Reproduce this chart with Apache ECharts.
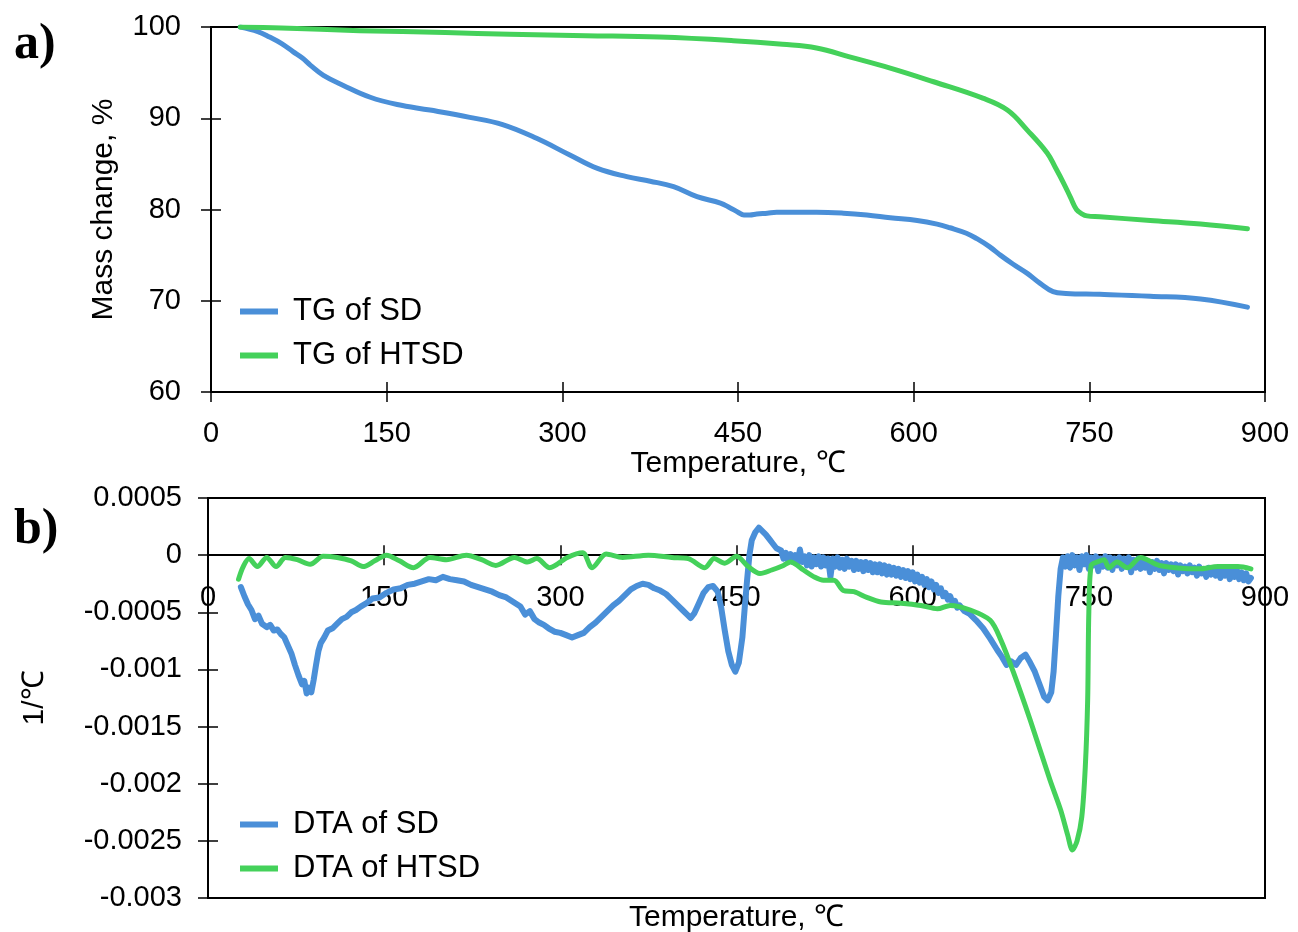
<!DOCTYPE html>
<html>
<head>
<meta charset="utf-8">
<script src="https://cdn.jsdelivr.net/npm/echarts@6/dist/echarts.min.js"></script>
<style>
  html, body { margin: 0; padding: 0; background: #fff; }
  #chart { width: 1298px; height: 932px; }
</style>
</head>
<body>
<div id="chart"></div>
<script>
// Temperature axis ticks (°C)
const tempTicks = [0, 150, 300, 450, 600, 750, 900];

// TG curves: temperature (°C) and mass change (%)
const tgSdTemp = [25, 40, 50, 60, 70, 78, 85, 96, 113, 136, 159, 187, 221, 249, 278, 306, 330, 355, 375, 395, 415, 435, 443, 450, 455, 460, 466, 475, 483, 500, 517, 540, 560, 580, 603, 620, 631, 645, 654, 665, 674, 685, 697, 708, 719, 730, 759, 802, 845, 885];
const tgSdMass = [100, 99.5, 98.9, 98.2, 97.3, 96.6, 95.8, 94.7, 93.6, 92.3, 91.5, 90.9, 90.1, 89.3, 87.8, 86.0, 84.5, 83.6, 83.1, 82.5, 81.4, 80.7, 80.2, 79.7, 79.4, 79.4, 79.5, 79.6, 79.7, 79.7, 79.7, 79.6, 79.4, 79.1, 78.8, 78.4, 78.0, 77.4, 76.8, 75.9, 75.0, 74.0, 73.0, 71.9, 71.0, 70.8, 70.7, 70.5, 70.2, 69.3];

const tgHtsdTemp = [25, 60, 127, 200, 255, 320, 383, 446, 488, 517, 546, 580, 617, 659, 680, 697, 714, 721, 728, 734, 739, 744, 748, 759, 802, 845, 885];
const tgHtsdMass = [100, 99.9, 99.6, 99.4, 99.2, 99.05, 98.9, 98.5, 98.1, 97.7, 96.7, 95.5, 94.0, 92.2, 90.9, 88.7, 86.2, 84.6, 82.9, 81.3, 80.0, 79.5, 79.3, 79.2, 78.8, 78.4, 77.9];

// DTA curves: temperature (°C) and signal (1/°C)
const dtaSdTemp = [
  28, 31, 34, 37, 40, 43, 46, 50, 53, 56, 59, 62, 65, 68, 71, 74, 77, 80, 82, 84, 86, 88, 90, 92, 94, 96, 99,
  102, 106, 110, 114, 118, 122, 126, 130, 135, 140, 146, 152, 158, 164, 170, 176, 182, 188, 194, 200,
  206, 212, 218, 224, 230, 236, 242, 248, 254, 260, 266, 270, 274, 278, 282, 286, 290, 295, 300,
  305, 310, 315, 320, 325, 330, 335, 340, 345, 350, 355, 360, 365, 370, 375, 380, 385, 390, 395, 400,
  404, 408, 411, 414, 418, 422, 426, 430, 434, 437, 440, 443, 446, 449, 452, 455, 457, 459, 461, 463,
  466, 469, 472, 475, 478, 481, 484,
  488, 490, 492, 494, 496, 498, 500, 502, 504, 506, 508, 510, 512, 514, 516, 518, 520, 522, 524, 526,
  528, 530, 532, 534, 536, 538, 540, 542, 544, 546, 548, 550, 552, 554, 556, 558, 560, 562, 564, 566,
  568, 570, 572, 574, 576, 578, 580, 582, 584, 586, 588, 590, 592, 594, 596, 598, 600, 602, 604, 606,
  608, 610, 612, 614, 616, 618, 620, 622, 624, 626, 628, 630, 632, 634, 636, 638, 640,
  644, 648, 654, 660, 666, 672, 676, 680, 684, 688, 692, 696, 700, 704, 708, 712, 715, 718, 720, 722, 724,
  726, 728, 730, 732, 734, 736, 738, 740, 742, 744, 746, 748, 750, 752, 754, 756, 758, 760, 762, 764,
  766, 768, 770, 772, 774, 776, 778, 780, 782, 784, 786, 788, 790, 792, 794, 796, 798, 800, 802, 804,
  806, 808, 810, 812, 814, 816, 818, 820, 822, 824, 826, 828, 830, 832, 834, 836, 838, 840, 842, 844,
  846, 848, 850, 852, 854, 856, 858, 860, 862, 864, 866, 868, 870, 872, 874, 876, 878, 880, 882, 884,
  886, 888
];
const dtaSdValue = [
  -0.00028, -0.00036, -0.00043, -0.00048, -0.00056, -0.00053, -0.0006, -0.00063, -0.00061, -0.00066, -0.00065, -0.00069, -0.00072, -0.00079, -0.00086, -0.00096, -0.00105, -0.00113, -0.0011, -0.00121, -0.00116, -0.0012, -0.00109, -0.00096, -0.00084, -0.00077, -0.00072,
  -0.00066, -0.00064, -0.0006, -0.00056, -0.00054, -0.0005, -0.00048, -0.00045, -0.00042, -0.00038, -0.00037, -0.00033, -0.0003, -0.00029, -0.00026, -0.00025, -0.00023, -0.00021, -0.00022, -0.00019,
  -0.00021, -0.00022, -0.00023, -0.00026, -0.00028, -0.0003, -0.00032, -0.00035, -0.00037, -0.00041, -0.00045, -0.00052, -0.00049, -0.00056, -0.00059, -0.00061, -0.00064, -0.00067, -0.00068,
  -0.0007, -0.00072, -0.0007, -0.00068, -0.00063, -0.00059, -0.00054, -0.00049, -0.00044, -0.0004, -0.00035, -0.0003, -0.00027, -0.00025, -0.00026, -0.00029, -0.00031, -0.00034, -0.00039, -0.00044,
  -0.00048, -0.00052, -0.00055, -0.00051, -0.00042, -0.00033, -0.00028, -0.00027, -0.00032, -0.00046, -0.00066, -0.00084, -0.00096, -0.00102, -0.00094, -0.00072, -0.00046, -0.00022, 0, 0.00013,
  0.0002, 0.00024, 0.00021, 0.00018, 0.00014, 0.0001, 0.00006,
  0.00004, -0.00003, 0.00002, -0.00005, 0.00001, -0.00006, 0, -0.00007, 0.00005, -0.00006, -0.00001, -0.00009, 0, -0.0001, -0.00002, -0.00008, -0.00001, -0.0001, -0.00002, -0.00009,
  -0.00003, -0.00019, -0.00003, -0.0001, -0.00002, -0.00011, -0.00004, -0.00012, -0.00003, -0.0001, -0.00005, -0.00013, -0.00005, -0.00012, -0.00006, -0.00014, -0.00006, -0.00013, -0.00007, -0.00015,
  -0.00008, -0.00015, -0.00008, -0.00016, -0.00009, -0.00017, -0.0001, -0.00017, -0.00011, -0.00018, -0.00012, -0.00019, -0.00013, -0.0002, -0.00014, -0.00021, -0.00015, -0.00023, -0.00017, -0.00024,
  -0.00019, -0.00026, -0.00021, -0.00028, -0.00023, -0.0003, -0.00026, -0.00033, -0.00029, -0.00036, -0.00033, -0.00039, -0.00036, -0.00042, -0.0004, -0.00046, -0.00044,
  -0.00049, -0.00051, -0.00057, -0.00064, -0.00073, -0.00083, -0.00089, -0.00096, -0.00093, -0.00096, -0.0009, -0.00087, -0.00094, -0.00102, -0.00113, -0.00124, -0.00127, -0.0012, -0.00102, -0.0007, -0.00036,
  -0.00012, -0.00002, -0.0001, -0.00001, -0.00011, 0, -0.00009, -0.00002, -0.00013, -0.00001, -0.00008, 0, -0.00012, -0.00002, -0.00009, -0.00001, -0.00014, -0.00003, -0.0001, -0.00001,
  -0.00011, -0.00002, -0.00013, -0.00003, -0.00009, -0.00002, -0.00012, -0.00003, -0.0001, -0.00002, -0.00015, -0.00004, -0.00011, -0.00003, -0.00012, -0.00005, -0.00011, -0.00005, -0.00015, -0.00006,
  -0.00012, -0.00005, -0.00013, -0.00007, -0.00016, -0.00007, -0.00013, -0.00008, -0.00014, -0.00008, -0.00017, -0.00009, -0.00014, -0.0001, -0.00016, -0.00009, -0.00015, -0.00011, -0.00018, -0.0001,
  -0.00016, -0.00012, -0.00019, -0.00011, -0.00017, -0.00012, -0.00018, -0.00013, -0.0002, -0.00012, -0.00018, -0.00013, -0.00021, -0.00014, -0.00019, -0.00013, -0.00021, -0.00015, -0.00022, -0.00016,
  -0.00023, -0.0002
];

const dtaHtsdTemp = [26, 30, 35, 42, 50, 58, 66, 76, 87, 98, 110, 122, 132, 142, 152, 163, 175, 189, 203, 220, 233, 245, 261, 272, 280, 291, 306, 319, 327, 339, 353, 375, 395, 409, 423, 431, 440, 450, 460, 470, 480, 490, 496, 507, 516, 524, 533, 541, 550, 561, 573, 590, 607, 621, 632, 649, 666, 675, 686, 700, 717, 726, 732, 736, 740, 744, 747, 749, 750, 752, 757, 763, 767, 774, 783, 794, 810, 844, 860, 877, 888];
const dtaHtsdValue = [-0.00021, -0.0001, -0.00003, -0.0001, -0.00002, -0.0001, -0.00002, -0.00004, -0.00008, -0.00001, -0.00002, -0.00005, -0.0001, -0.00005, 0, -0.00005, -0.00011, -0.00002, -0.00004, 0, -0.00004, -0.00009, -0.00002, -0.00006, -0.00003, -0.00011, -0.00002, 0.00002, -0.00011, 0.00001, -0.00002, 0, -0.00002, -0.00003, -0.00011, -0.00003, -0.00007, -0.00001, -0.0001, -0.00016, -0.00013, -0.00009, -0.00006, -0.00013, -0.00019, -0.00022, -0.00022, -0.00031, -0.00032, -0.00037, -0.00041, -0.00042, -0.00044, -0.00047, -0.00044, -0.00048, -0.00057, -0.00074, -0.00103, -0.00144, -0.00197, -0.00223, -0.00245, -0.00258, -0.0025, -0.00229, -0.00185, -0.00127, -0.0005, -0.00009, -0.00006, -0.00004, -0.00011, -0.00006, -0.00011, -0.00002, -0.00009, -0.00012, -0.0001, -0.0001, -0.00012];

// DTA value axis
const dtaMin = -0.003, dtaMax = 0.0005, dtaStep = 0.0005;

const pairs = (xs, ys) => xs.map((x, i) => [x, ys[i]]);

const FONT = '"Liberation Sans", Arial, sans-serif';
const BLUE = '#4a8fd8';
const GREEN = '#44d15a';
const INK = '#000';

const GRID_B_HEIGHT = 400;
// shift of the lower temperature axis from the plot bottom up to the zero line
const zeroShift = -((0 - dtaMin) / (dtaMax - dtaMin)) * GRID_B_HEIGHT;

const tickLabel = { color: INK, fontFamily: FONT, fontSize: 29 };

// Builds a pair of axes (outer ticks + inner ticks) so that ticks cross the axis line
function tempAxes(grid, labelMargin, nameText, nameGap, offset) {
  const base = {
    type: 'value', gridIndex: grid, min: tempTicks[0], max: tempTicks[tempTicks.length - 1],
    interval: tempTicks[1] - tempTicks[0], position: 'bottom', offset: offset, splitLine: { show: false }
  };
  return [
    Object.assign({}, base, {
      axisLine: { show: true, onZero: false, lineStyle: { color: INK, width: 2 } },
      axisTick: { show: true, inside: false, length: 10, lineStyle: { color: INK, width: 1.5 } },
      axisLabel: Object.assign({ margin: labelMargin }, tickLabel),
      name: nameText, nameLocation: 'middle', nameGap: nameGap,
      nameTextStyle: { color: INK, fontFamily: FONT, fontSize: 30 }
    }),
    Object.assign({}, base, {
      axisLine: { show: false, onZero: false },
      axisTick: { show: true, inside: true, length: 10, lineStyle: { color: INK, width: 1.5 } },
      axisLabel: { show: false }
    })
  ];
}

function valueAxes(grid, min, max, interval, labelMargin, fmt, nameText, nameGap) {
  const base = {
    type: 'value', gridIndex: grid, min: min, max: max, interval: interval,
    position: 'left', splitLine: { show: false }
  };
  return [
    Object.assign({}, base, {
      axisLine: { show: true, onZero: false, lineStyle: { color: INK, width: 2 } },
      axisTick: { show: true, inside: false, length: 10, lineStyle: { color: INK, width: 1.5 } },
      axisLabel: Object.assign({ margin: labelMargin, formatter: fmt }, tickLabel),
      name: nameText, nameLocation: 'middle', nameGap: nameGap, nameRotate: 90,
      nameTextStyle: { color: INK, fontFamily: FONT, fontSize: 30 }
    }),
    Object.assign({}, base, {
      axisLine: { show: false, onZero: false },
      axisTick: { show: true, inside: true, length: 10, lineStyle: { color: INK, width: 1.5 } },
      axisLabel: { show: false }
    })
  ];
}

const dtaFmt = v => String(parseFloat(v.toFixed(4)));

const chart = echarts.init(document.getElementById('chart'), null, { renderer: 'canvas' });

const legendText = { color: INK, fontFamily: FONT, fontSize: 31, padding: [0, 0, 0, 10] };

chart.setOption({
  animation: false,
  backgroundColor: '#fff',
  grid: [
    { left: 211, top: 27, width: 1054, height: 365, show: true, borderColor: INK, borderWidth: 2,
      backgroundColor: 'transparent', containLabel: false, outerBoundsMode: 'none' },
    { left: 208, top: 498, width: 1057, height: GRID_B_HEIGHT, show: true, borderColor: INK, borderWidth: 2,
      backgroundColor: 'transparent', containLabel: false, outerBoundsMode: 'none' }
  ],
  xAxis: [
    ...tempAxes(0, 27, 'Temperature, ℃', 55, 0),
    ...tempAxes(1, 28, 'Temperature, ℃', 348, zeroShift)
  ],
  yAxis: [
    ...valueAxes(0, 60, 100, 10, 30, v => String(v), 'Mass change, %', 92),
    ...valueAxes(1, dtaMin, dtaMax, dtaStep, 26, dtaFmt, '1/℃', 158)
  ],
  legend: [
    {
      data: ['TG of SD', 'TG of HTSD'], orient: 'vertical', left: 240, top: 296, padding: 0,
      itemGap: 13, itemWidth: 38, itemHeight: 6, icon: 'rect', textStyle: legendText
    },
    {
      data: ['DTA of SD', 'DTA of HTSD'], orient: 'vertical', left: 240, top: 809, padding: 0,
      itemGap: 13, itemWidth: 38, itemHeight: 6, icon: 'rect', textStyle: legendText
    }
  ],
  graphic: [
    { type: 'text', left: 14, top: 20, style: { text: 'a)', fill: INK, font: 'bold 50px "Liberation Serif", "Times New Roman", serif' } },
    { type: 'text', left: 14, top: 505, style: { text: 'b)', fill: INK, font: 'bold 50px "Liberation Serif", "Times New Roman", serif' } }
  ],
  series: [
    {
      name: 'TG of SD', type: 'line', xAxisIndex: 0, yAxisIndex: 0, showSymbol: false, symbol: 'none',
      smooth: 0.4, data: pairs(tgSdTemp, tgSdMass), color: BLUE,
      lineStyle: { color: BLUE, width: 5, cap: 'round', join: 'round' }
    },
    {
      name: 'TG of HTSD', type: 'line', xAxisIndex: 0, yAxisIndex: 0, showSymbol: false, symbol: 'none',
      smooth: 0.4, data: pairs(tgHtsdTemp, tgHtsdMass), color: GREEN,
      lineStyle: { color: GREEN, width: 5, cap: 'round', join: 'round' }
    },
    {
      name: 'DTA of SD', type: 'line', xAxisIndex: 2, yAxisIndex: 2, showSymbol: false, symbol: 'none',
      data: pairs(dtaSdTemp, dtaSdValue), color: BLUE,
      lineStyle: { color: BLUE, width: 6, cap: 'round', join: 'round' }
    },
    {
      name: 'DTA of HTSD', type: 'line', xAxisIndex: 2, yAxisIndex: 2, showSymbol: false, symbol: 'none',
      smooth: 0.3, data: pairs(dtaHtsdTemp, dtaHtsdValue), color: GREEN,
      lineStyle: { color: GREEN, width: 5, cap: 'round', join: 'round' }
    }
  ]
});
</script>
</body>
</html>
